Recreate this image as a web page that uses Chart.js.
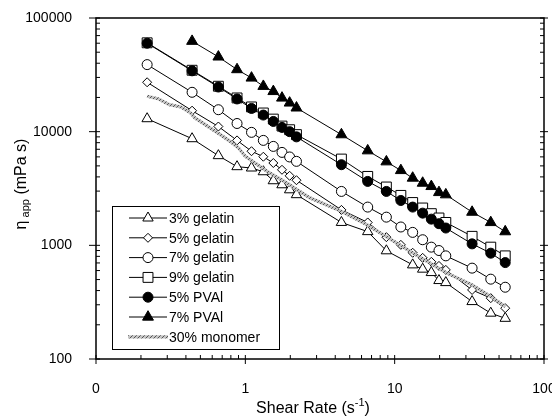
<!DOCTYPE html>
<html>
<head>
<meta charset="utf-8">
<script src="https://cdn.jsdelivr.net/npm/chart.js@4.4.1/dist/chart.umd.min.js"></script>
<style>
  html, body { margin: 0; padding: 0; background: #fff; }
</style>
</head>
<body>
<canvas id="grafikViskositas" width="552" height="416"></canvas>
<script>
// -------- DATA --------
const shearRate = [0.22, 0.44, 0.66, 0.88, 1.1, 1.32, 1.54, 1.76, 1.98, 2.2, 4.4, 6.6, 8.8, 11, 13.2, 15.4, 17.6, 19.8, 22, 33, 44, 55];

const gelatin3 = [13000, 8670, 6150, 4920, 4790, 4440, 3700, 3410, 3080, 2790, 1590, 1320, 895, null, 673, 617, 576, 490, 470, 320, 253, 228];
const gelatin5 = [27200, 15300, 11100, 8380, 6730, 6020, 5300, 4620, 4090, 3740, 2050, 1590, 1180, 1010, 860, 776, 716, 659, 608, 405, 343, 280];
const gelatin7 = [38900, 22200, 15600, 11800, 9860, 8380, 7420, 6570, 5990, 5480, 2980, 2170, 1770, 1450, 1300, 1120, 964, 900, 808, 630, 504, 428];
const gelatin9 = [60500, 34700, 25100, 19800, 16500, 14600, 12900, 11200, 10400, 9420, 5740, 4040, 3260, 2750, 2380, 2130, 1900, 1740, 1590, 1200, 964, 808];
const pval5 = [60000, 34300, 24700, 19400, 16000, 14000, 12300, 10900, 10000, 9000, 5120, 3650, 2980, 2480, 2170, 1920, 1700, 1550, 1420, 1030, 853, 705];
const pval7 = [null, 62500, 45500, 35200, 29700, 25100, 22600, 19800, 17900, 16200, 9420, 6800, 5440, 4560, 3910, 3530, 3300, 2920, 2790, 1960, 1590, 1320];

const monomerRate = [0.22, 0.26, 0.31, 0.37, 0.43, 0.46, 0.52, 0.58, 0.68, 0.79, 0.9, 1.0, 1.4, 1.9, 2.7, 4.4, 6.5, 8.9, 13.3, 22.4, 33, 44, 55];
const monomer30 = [20500, 19500, 17300, 16500, 14600, 13200, 11900, 10800, 9420, 8220, 7180, 6060, 4470, 3530, 2620, 1990, 1520, 1180, 853, 569, 449, 354, 289];

const xTickValues = [0.1, 1, 10, 100];
const xTickLabels = ["0", "1", "10", "100"];
const yTickValues = [100, 1000, 10000, 100000];
const yTickLabels = ["100", "1000", "10000", "100000"];

const seriesNames = ["3% gelatin", "5% gelatin", "7% gelatin", "9% gelatin", "5% PVAl", "7% PVAl", "30% monomer"];

// -------- HELPERS --------
function pasangan(xs, ys) {
    return xs.map((x, i) => ({ x: x, y: ys[i] })).filter(p => p.y !== null);
}

const canvas = document.getElementById("grafikViskositas");
const ctx = canvas.getContext("2d");

// hatched grey line for the monomer series
const pc = document.createElement("canvas");
pc.width = 4; pc.height = 4;
const pctx = pc.getContext("2d");
pctx.fillStyle = "#c4c4c4";
pctx.fillRect(0, 0, 4, 4);
pctx.strokeStyle = "#555";
pctx.lineWidth = 1;
pctx.beginPath(); pctx.moveTo(0, 4); pctx.lineTo(4, 0); pctx.stroke();
const arsir = ctx.createPattern(pc, "repeat");

function seri(label, data, style, radius, fill, order) {
    return {
        label: label,
        data: data,
        showLine: true,
        borderColor: "#000",
        borderWidth: 1,
        pointStyle: style,
        pointRadius: radius,
        pointBackgroundColor: fill,
        pointBorderColor: "#000",
        pointBorderWidth: 1,
        order: order
    };
}

const datasets = [
    seri(seriesNames[0], pasangan(shearRate, gelatin3), "triangle", 6, "#fff", 1),
    seri(seriesNames[1], pasangan(shearRate, gelatin5), "rectRot", 4.5, "#fff", 2),
    seri(seriesNames[2], pasangan(shearRate, gelatin7), "circle", 5, "#fff", 3),
    seri(seriesNames[3], pasangan(shearRate, gelatin9), "rect", 7, "#fff", 5),
    seri(seriesNames[4], pasangan(shearRate, pval5), "circle", 5, "#000", 4),
    seri(seriesNames[5], pasangan(shearRate, pval7), "triangle", 6.3, "#000", 6),
    {
        label: seriesNames[6],
        data: pasangan(monomerRate, monomer30),
        showLine: true,
        borderColor: arsir,
        borderWidth: 3.2,
        pointRadius: 0,
        order: 0
    }
];

// -------- PLUGINS --------
const bingkai = {
    id: "bingkai",
    afterDraw(chart) {
        const c = chart.ctx;
        const a = chart.chartArea;
        const sx = chart.scales.x, sy = chart.scales.y;
        c.save();
        c.strokeStyle = "#000";
        c.lineWidth = 1;
        c.beginPath();
        for (let d = -1; d < 2; d++) {
            for (let m = 1; m <= 9; m++) {
                const px = sx.getPixelForValue(m * Math.pow(10, d));
                if (m === 1) { c.moveTo(px, a.bottom - 4); c.lineTo(px, a.bottom + 5); }
                else { c.moveTo(px, a.bottom); c.lineTo(px, a.bottom - 4); }
            }
        }
        const pxEnd = sx.getPixelForValue(100);
        c.moveTo(pxEnd, a.bottom - 4); c.lineTo(pxEnd, a.bottom + 5);
        for (let d = 2; d < 5; d++) {
            for (let m = 1; m <= 9; m++) {
                const py = sy.getPixelForValue(m * Math.pow(10, d));
                if (m === 1) {
                    c.moveTo(a.left - 7, py); c.lineTo(a.left + 4, py);
                    c.moveTo(a.right - 4, py); c.lineTo(a.right + 4, py);
                } else {
                    c.moveTo(a.left, py); c.lineTo(a.left + 4, py);
                    c.moveTo(a.right - 4, py); c.lineTo(a.right, py);
                }
            }
        }
        const pyTop = sy.getPixelForValue(100000);
        c.moveTo(a.left - 7, pyTop); c.lineTo(a.left + 4, pyTop);
        c.moveTo(a.right - 4, pyTop); c.lineTo(a.right + 4, pyTop);
        c.stroke();
        c.lineWidth = 1.5;
        c.strokeRect(a.left, a.top, a.right - a.left, a.bottom - a.top);

        // axis titles
        c.fillStyle = "#000";
        c.textBaseline = "alphabetic";
        c.font = "16px 'Liberation Sans', Arial, sans-serif";
        const t1 = "Shear Rate (s", t2 = "-1", t3 = ")";
        const w1 = c.measureText(t1).width;
        c.font = "11px 'Liberation Sans', Arial, sans-serif";
        const w2 = c.measureText(t2).width;
        c.font = "16px 'Liberation Sans', Arial, sans-serif";
        const w3 = c.measureText(t3).width;
        let tx = 313 - (w1 + w2 + w3) / 2;
        const ty = 413;
        c.fillText(t1, tx, ty);
        c.font = "11px 'Liberation Sans', Arial, sans-serif";
        c.fillText(t2, tx + w1, ty - 7);
        c.font = "16px 'Liberation Sans', Arial, sans-serif";
        c.fillText(t3, tx + w1 + w2, ty);

        c.save();
        c.translate(26, 184);
        c.rotate(-Math.PI / 2);
        const y1 = "\u03B7", y2 = " app", y3 = " (mPa s)";
        const v1 = c.measureText(y1).width;
        c.font = "11px 'Liberation Sans', Arial, sans-serif";
        const v2 = c.measureText(y2).width;
        c.font = "16px 'Liberation Sans', Arial, sans-serif";
        const v3 = c.measureText(y3).width;
        let ux = -(v1 + v2 + v3) / 2;
        c.fillText(y1, ux, 0);
        c.font = "11px 'Liberation Sans', Arial, sans-serif";
        c.fillText(y2, ux + v1, 3);
        c.font = "16px 'Liberation Sans', Arial, sans-serif";
        c.fillText(y3, ux + v1 + v2, 0);
        c.restore();
        c.restore();
    }
};

const legenda = {
    id: "legenda",
    afterDraw(chart) {
        const c = chart.ctx;
        const bx = 112, by = 206, bw = 167, bh = 143;
        c.save();
        c.fillStyle = "#fff";
        c.fillRect(bx, by, bw, bh);
        c.strokeStyle = "#000";
        c.lineWidth = 1;
        c.strokeRect(bx + 0.5, by + 0.5, bw, bh);
        c.font = "14px 'Liberation Sans', Arial, sans-serif";
        c.textBaseline = "middle";
        chart.data.datasets.forEach((ds, i) => {
            const ry = by + 12 + i * 19.8;
            if (ds.pointRadius === 0) {
                c.strokeStyle = ds.borderColor;
                c.lineWidth = ds.borderWidth;
                c.beginPath(); c.moveTo(128, ry); c.lineTo(168, ry); c.stroke();
            } else {
                c.strokeStyle = "#000";
                c.lineWidth = 1;
                c.beginPath(); c.moveTo(129, ry); c.lineTo(167, ry); c.stroke();
                c.fillStyle = ds.pointBackgroundColor;
                c.strokeStyle = "#000";
                Chart.helpers.drawPoint(c, { pointStyle: ds.pointStyle, radius: ds.pointRadius, rotation: 0, borderWidth: 1 }, 148, ry);
            }
            c.fillStyle = "#000";
            c.fillText(ds.label, 169, ry + 1);
        });
        c.restore();
    }
};

// -------- GRAFIK --------
new Chart(canvas, {
    type: "scatter",
    data: { datasets: datasets },
    options: {
        responsive: false,
        animation: false,
        layout: { padding: { top: 18, right: 8, left: 0, bottom: 0 } },
        plugins: {
            legend: { display: false },
            tooltip: { enabled: false }
        },
        scales: {
            x: {
                type: "logarithmic",
                min: 0.1,
                max: 100,
                grid: { display: false },
                border: { display: false },
                afterBuildTicks: s => { s.ticks = xTickValues.map(v => ({ value: v })); },
                afterFit: s => { s.height = 57; s.paddingLeft = 0; s.paddingRight = 0; },
                ticks: {
                    color: "#000",
                    padding: 14,
                    maxRotation: 0,
                    font: { family: "'Liberation Sans', Arial, sans-serif", size: 14 },
                    callback: v => xTickLabels[xTickValues.indexOf(v)]
                }
            },
            y: {
                type: "logarithmic",
                min: 100,
                max: 100000,
                grid: { display: false },
                border: { display: false },
                afterBuildTicks: s => { s.ticks = yTickValues.map(v => ({ value: v })); },
                afterFit: s => { s.width = 96; s.paddingTop = 0; s.paddingBottom = 0; },
                ticks: {
                    color: "#000",
                    padding: 16,
                    font: { family: "'Liberation Sans', Arial, sans-serif", size: 14 },
                    callback: v => yTickLabels[yTickValues.indexOf(v)]
                }
            }
        }
    },
    plugins: [bingkai, legenda]
});
</script>
</body>
</html>
